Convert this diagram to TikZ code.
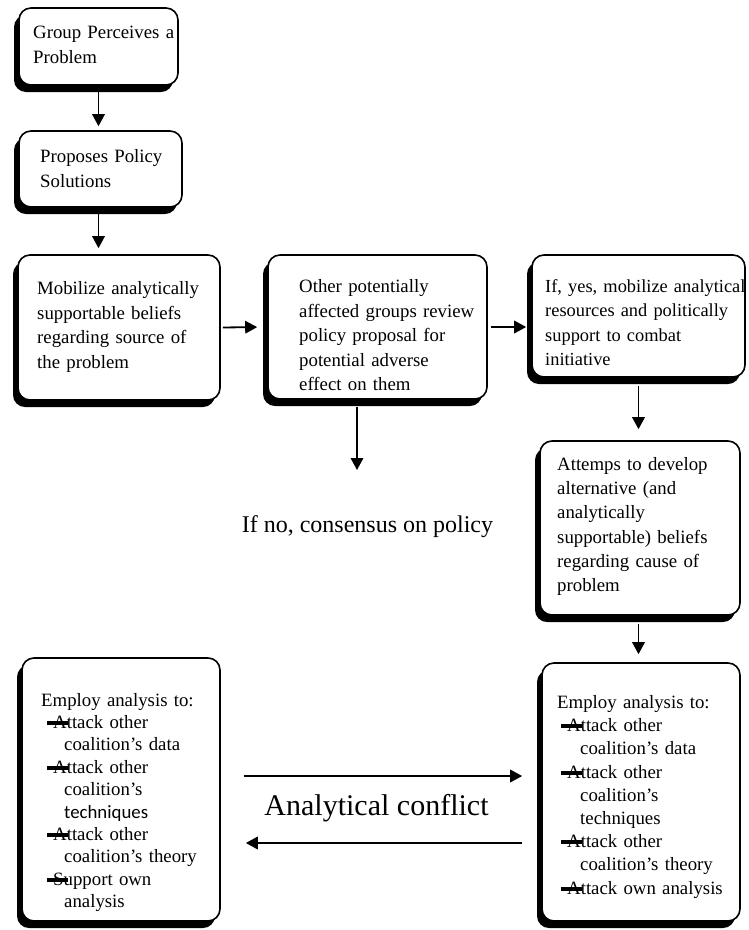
\documentclass[tikz,border=0pt]{standalone}
\usepackage{fontspec}
\setmainfont{Liberation Serif}
\newfontfamily\sansf{Carlito}
\usetikzlibrary{arrows.meta,shadows}

% black bar struck over the start of each list entry
\newcommand{\stk}{\makebox[0pt][l]{\hspace{-6pt}\rule[3.5pt]{21pt}{4pt}}}

\begin{document}
\begin{tikzpicture}[x=1pt,y=-1pt,
  box/.style={draw, line width=1.6pt, rounded corners=12pt, fill=white, inner sep=0pt,
    drop shadow={shadow xshift=-5pt, shadow yshift=-7pt, fill=black, opacity=1}},
  txt/.style={anchor=base west, inner sep=0pt, align=left, text width=250pt,
    font=\fontsize{18.8}{24.5}\selectfont},
  listtxt/.style={txt, font=\fontsize{18.8}{23.2}\selectfont},
  arr/.style={line width=1.8pt, -{Triangle[length=12pt,width=12.5pt]}},
]
\useasboundingbox (0,0) rectangle (748,930);

% boxes
\node[box, minimum width=159pt, minimum height=77pt]  (b1) at (98.5,46.5) {};
\node[box, minimum width=163pt, minimum height=76pt]  (b2) at (100.5,169) {};
\node[box, minimum width=202pt, minimum height=145pt] (b3) at (119,327.5) {};
\node[box, minimum width=219pt, minimum height=144pt] (b4) at (377.5,327) {};
\node[box, minimum width=213pt, minimum height=122pt] (b5) at (638.5,316) {};
\node[box, minimum width=200pt, minimum height=174pt] (b6) at (640,528) {};
\node[box, minimum width=198pt, minimum height=258pt] (b7) at (641,792) {};
\node[box, minimum width=198pt, minimum height=263pt] (b8) at (121,789.5) {};

% box texts
\node[txt] (t1) at (33,38.5) {Group Perceives a\\Problem};
\node[txt] (t2) at (40,162.5) {Proposes Policy\\Solutions};
\node[txt] (t3) at (37,294.5) {Mobilize analytically\\supportable beliefs\\regarding source of\\the problem};
\node[txt] (t4) at (299,292.5) {Other potentially\\affected groups review\\policy proposal for\\potential adverse\\effect on them};
\node[txt, font=\fontsize{18.4}{24.3}\selectfont] (t5) at (545,292.5) {If, yes, mobilize analytical\\resources and politically\\support to combat\\initiative};
\node[txt, font=\fontsize{18.8}{24.2}\selectfont] (t6) at (557,470.5) {Attemps to develop\\alternative (and\\analytically\\supportable) beliefs\\regarding cause of\\problem};

\node[listtxt, font=\fontsize{18.8}{22.4}\selectfont] (t8) at (41,706) {Employ analysis to:\\
\hspace*{12pt}\stk Attack other\\
\hspace*{23pt}coalition’s data\\
\hspace*{12pt}\stk Attack other\\
\hspace*{23pt}coalition’s\\
\hspace*{23pt}{\sansf techniques}\\
\hspace*{12pt}\stk Attack other\\
\hspace*{23pt}coalition’s theory\\
\hspace*{12pt}\stk Support own\\
\hspace*{23pt}analysis};

\node[listtxt] (t7) at (557,708.5) {Employ analysis to:\\
\hspace*{10pt}\stk Attack other\\
\hspace*{23pt}coalition’s data\\
\hspace*{10pt}\stk Attack other\\
\hspace*{23pt}coalition’s\\
\hspace*{23pt}techniques\\
\hspace*{10pt}\stk Attack other\\
\hspace*{23pt}coalition’s theory\\
\hspace*{10pt}\stk Attack own analysis};

% free labels
\node[anchor=base, inner sep=0pt, font=\fontsize{24}{28}\selectfont] (nocons) at (367.5,532) {If no, consensus on policy};
\node[anchor=base, inner sep=0pt, font=\fontsize{30}{34}\selectfont] (conflict) at (376.5,815) {Analytical conflict};
\coordinate (nopol) at (357,470);

% connectors
\draw[arr, shorten >=4pt] (b1.south) -- (b1.south |- b2.north);
\draw[arr, shorten >=6pt] (b2.south -| b1.south) -- (b3.north -| b1.south);
\draw[arr, shorten <=2pt, shorten >=10pt] (b3.east) -- (b4.west);
\draw[arr, shorten <=3pt, shorten >=5pt] (b4.east) -- (b5.west |- b4.east);
\draw[arr, shorten <=8pt, shorten >=11pt] (b5.south) -- (b5.south |- b6.north);
\draw[arr, shorten <=8pt, shorten >=8pt] (b6.south -| b5.south) -- (b7.north -| b5.south);
\draw[arr, shorten <=7pt] (b4.south -| nopol) -- (nopol);
\draw[arr, shorten <=23pt, shorten >=19pt] ([yshift=13.5pt]b8.east) -- ([yshift=13.5pt]b8.east -| b7.west);
\draw[arr, shorten <=19pt, shorten >=25pt] ([yshift=-53.5pt]b8.east -| b7.west) -- ([yshift=-53.5pt]b8.east);
\end{tikzpicture}
\end{document}
